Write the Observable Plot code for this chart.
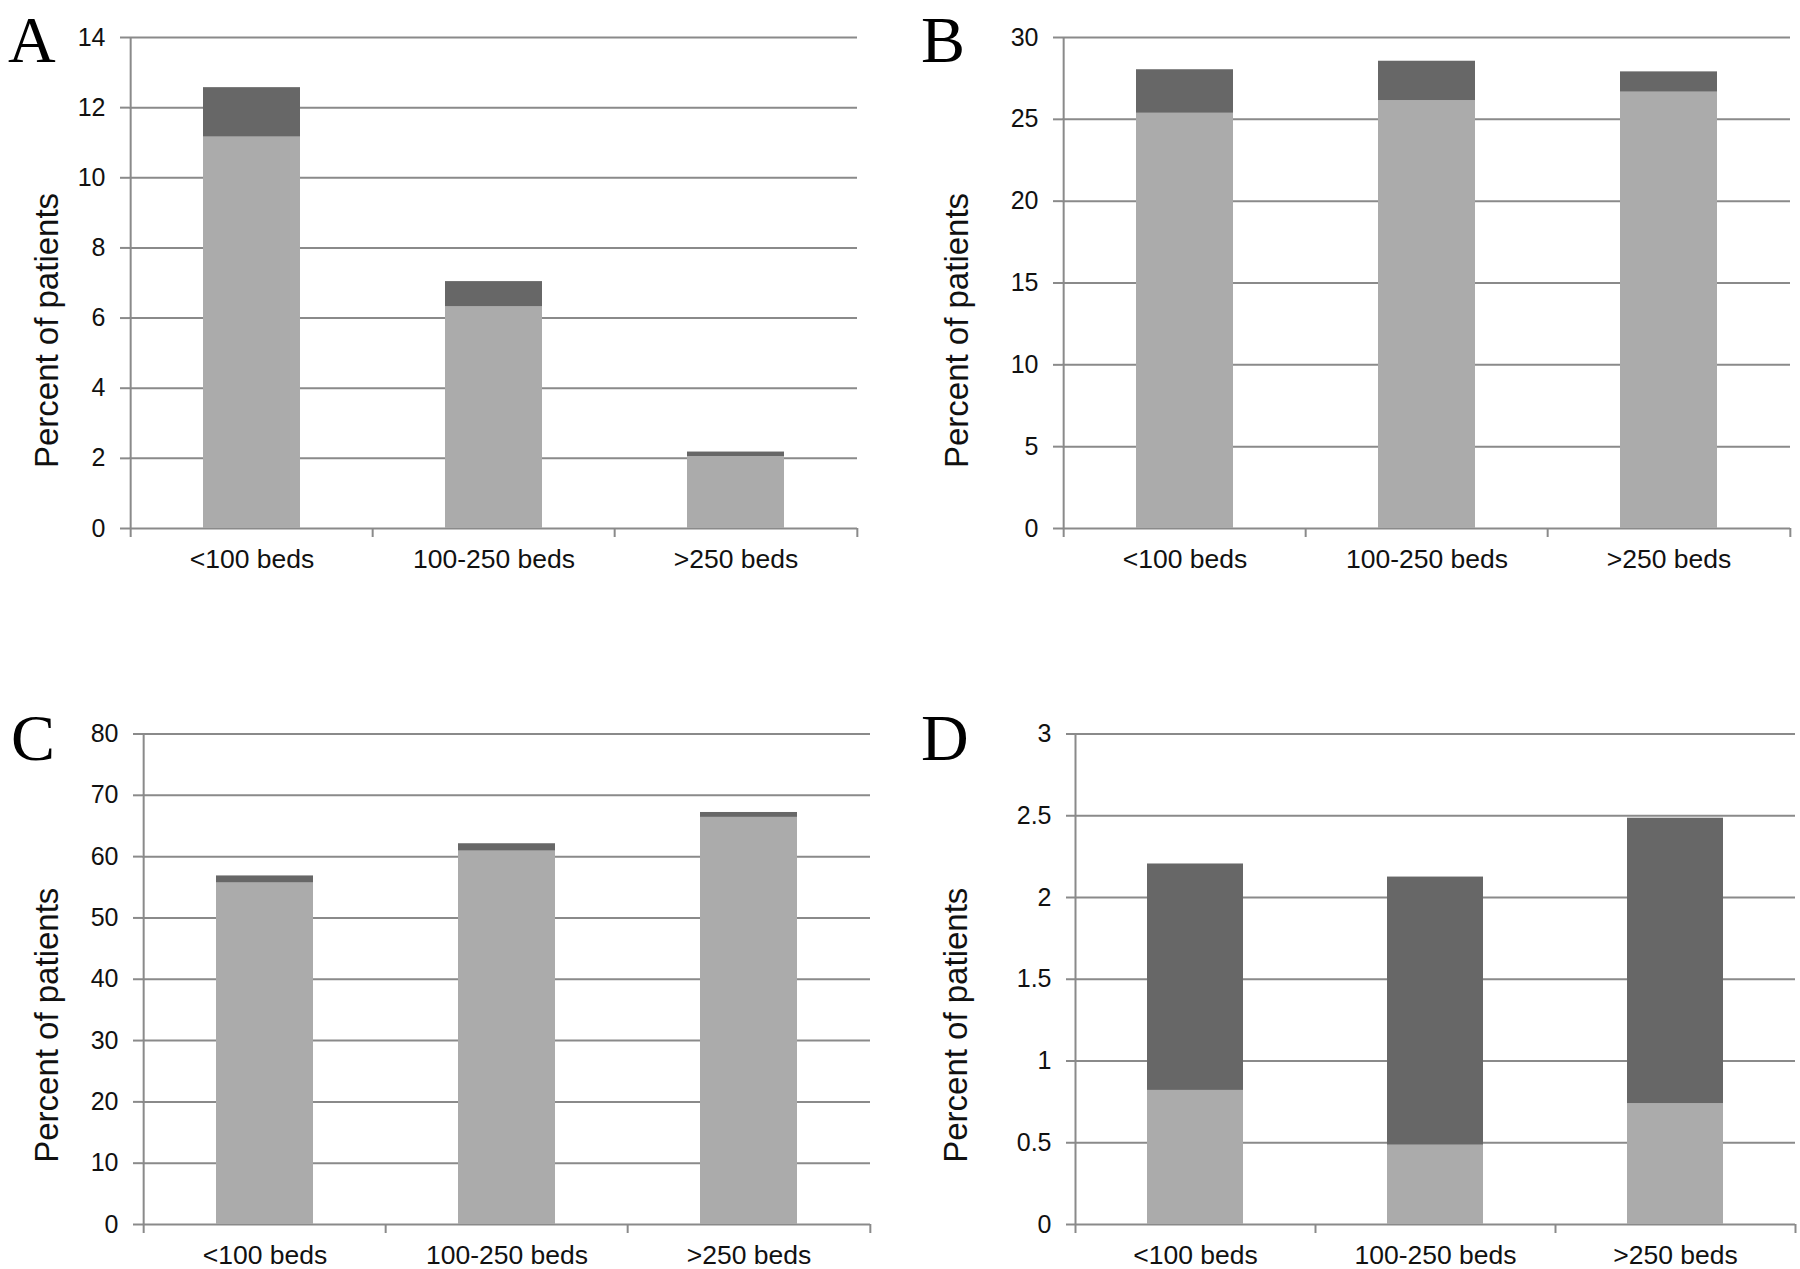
<!DOCTYPE html>
<html><head><meta charset="utf-8">
<script src="https://cdn.jsdelivr.net/npm/d3@7"></script>
<script src="https://cdn.jsdelivr.net/npm/@observablehq/plot@0.6"></script>
<style>
body{margin:0;background:#fff;}
#wrap{position:relative;width:1800px;height:1269px;background:#fff;overflow:hidden;font-family:"Liberation Sans",Arial,sans-serif;}
.panel{position:absolute;}
.letter{position:absolute;font-family:"Liberation Serif","Times New Roman",serif;font-size:66px;line-height:1;color:#000;}
</style></head><body><div id="wrap"></div>
<script>
// ---- data ----
const categories = ["<100 beds", "100-250 beds", ">250 beds"];
const seriesNames = ["light", "dark"];
const seriesColors = ["#ababab", "#676767"];
const yTitle = "Percent of patients";

const lightA = [11.16, 6.32, 2.05];
const darkA  = [1.41, 0.72, 0.13];
const ticksA = [0, 2, 4, 6, 8, 10, 12, 14];

const lightB = [25.37, 26.14, 26.66];
const darkB  = [2.66, 2.41, 1.24];
const ticksB = [0, 5, 10, 15, 20, 25, 30];

const lightC = [55.7, 60.9, 66.4];
const darkC  = [1.15, 1.2, 0.8];
const ticksC = [0, 10, 20, 30, 40, 50, 60, 70, 80];

const lightD = [0.82, 0.485, 0.74];
const darkD  = [1.385, 1.64, 1.745];
const ticksD = [0, 0.5, 1, 1.5, 2, 2.5, 3];

const gridColor = "#8a8a8a";

function panel(cfg) {
  const {width, height, marginLeft, marginRight, marginTop, marginBottom} = cfg;
  const step = (width - marginLeft - marginRight) / categories.length;
  const rows = [];
  categories.forEach((c, i) => {
    rows.push({category: c, series: seriesNames[0], value: cfg.light[i]});
    rows.push({category: c, series: seriesNames[1], value: cfg.dark[i]});
  });
  const t = cfg.ticks;
  return Plot.plot({
    width, height, marginLeft, marginRight, marginTop, marginBottom,
    style: {fontFamily: "'Liberation Sans', Arial, sans-serif", color: "#111", background: "transparent"},
    x: {domain: categories, paddingInner: 0.6, paddingOuter: 0.3, axis: null},
    y: {domain: [t[0], t[t.length - 1]], axis: null},
    color: {domain: seriesNames, range: seriesColors},
    marks: [
      Plot.gridY(t, {stroke: gridColor, strokeOpacity: 1, strokeWidth: 2}),
      Plot.axisY(t, {tickSize: 9, tickPadding: 15, fontSize: 25, stroke: gridColor, strokeWidth: 2, strokeOpacity: 1, tickFormat: d => String(d), label: null}),
      Plot.barY(rows, {x: "category", y: "value", fill: "series"}),
      Plot.ruleX([categories[0]], {dx: -step / 2, stroke: gridColor, strokeWidth: 2}),
      Plot.axisX(categories, {tickSize: 9, tickFormat: () => "", dx: -step / 2, stroke: gridColor, strokeWidth: 2, strokeOpacity: 1, label: null}),
      Plot.axisX([categories[categories.length - 1]], {tickSize: 9, tickFormat: () => "", dx: step / 2, stroke: gridColor, strokeWidth: 2, strokeOpacity: 1, label: null}),
      Plot.axisX(categories, {tickSize: 0, tickPadding: 21, fontSize: 26.5, label: null}),
      Plot.text([yTitle], {frameAnchor: "left", textAnchor: "middle", rotate: -90, dx: cfg.titleDx, dy: cfg.titleDy, fontSize: 33, fill: "#111"})
    ]
  });
}

const panels = [
  {letter: "A", lx: 8, ly: 7, left: 0, top: 0, light: lightA, dark: darkA, ticks: ticksA,
   width: 900, height: 634, marginLeft: 129, marginRight: 43, marginTop: 37, marginBottom: 106, titleDx: -82, titleDy: 47.5},
  {letter: "B", lx: 921, ly: 7, left: 900, top: 0, light: lightB, dark: darkB, ticks: ticksB,
   width: 900, height: 634, marginLeft: 162, marginRight: 10, marginTop: 37, marginBottom: 106, titleDx: -105, titleDy: 47.5},
  {letter: "C", lx: 11, ly: 705, left: 0, top: 635, light: lightC, dark: darkC, ticks: ticksC,
   width: 900, height: 634, marginLeft: 142, marginRight: 30, marginTop: 98.5, marginBottom: 45, titleDx: -95, titleDy: 46},
  {letter: "D", lx: 921, ly: 705, left: 900, top: 635, light: lightD, dark: darkD, ticks: ticksD,
   width: 900, height: 634, marginLeft: 175, marginRight: 5, marginTop: 98.5, marginBottom: 45, titleDx: -119, titleDy: 46}
];

const wrap = document.getElementById("wrap");
for (const p of panels) {
  const holder = document.createElement("div");
  holder.className = "panel";
  holder.style.left = p.left + "px";
  holder.style.top = p.top + "px";
  holder.appendChild(panel(p));
  wrap.appendChild(holder);
  const l = document.createElement("div");
  l.className = "letter";
  l.textContent = p.letter;
  l.style.left = p.lx + "px";
  l.style.top = p.ly + "px";
  wrap.appendChild(l);
}
</script>
</body></html>
